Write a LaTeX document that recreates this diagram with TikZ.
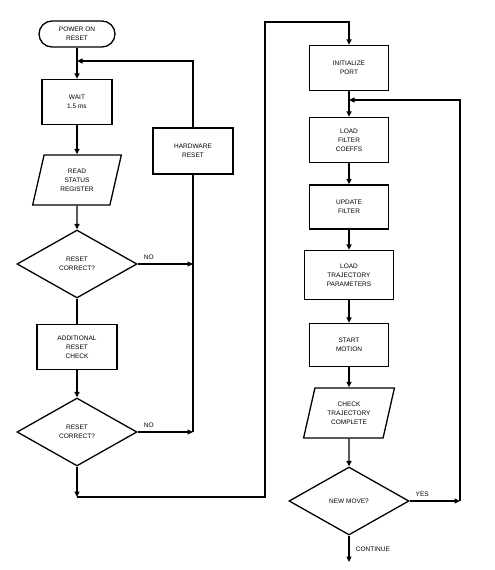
\documentclass[tikz,border=0pt]{standalone}
\usepackage{fontspec}
\setmainfont{Liberation Sans}
\usepackage{tikz}
\usetikzlibrary{arrows, arrows.meta, shapes.geometric}

\begin{document}
\begin{tikzpicture}[x=1pt, y=-1pt, line width=1.3pt,
  every node/.style={font=\fontsize{6.5}{9}\selectfont, align=center},
  flow/.style={-{Triangle[length=5.5pt, width=5pt]}},
  procbox/.style={draw, minimum width=79pt, minimum height=45pt, inner sep=1pt},
  termbox/.style={draw, rounded corners=13pt, minimum width=76pt, minimum height=26pt, inner sep=1pt},
  iobox/.style={draw, trapezium, trapezium left angle=76, trapezium right angle=104,
    trapezium stretches=true, minimum width=89pt, minimum height=50pt, inner sep=1pt},
  decision/.style={draw, diamond, aspect=1.76, minimum width=120pt, minimum height=68pt, inner sep=0pt}]
  \useasboundingbox (0,0) rectangle (495,570);

  % Left column
  \node[termbox] (por) at (77,34) {POWER ON\\RESET};
  \node[procbox, minimum width=70pt] (wait) at (77,102) {WAIT\\1.5 ms};
  \node[iobox] (rsr) at (77,180) {READ\\STATUS\\REGISTER};
  \node[decision] (rc1) at (77,264) {RESET\\CORRECT?};
  \node[procbox, minimum width=80pt] (arc) at (77,347) {ADDITIONAL\\RESET\\CHECK};
  \node[decision] (rc2) at (77,432) {RESET\\CORRECT?};
  \node[procbox, minimum width=80pt, minimum height=46pt] (hwr) at (193,151) {HARDWARE\\RESET};

  % Right column
  \node[procbox] (init) at (349,68) {INITIALIZE\\PORT};
  \node[procbox] (lfc) at (349,140) {LOAD\\FILTER\\COEFFS};
  \node[procbox, minimum height=44pt] (upd) at (349,207) {UPDATE\\FILTER};
  \node[procbox, minimum width=89pt, minimum height=49pt] (ltp) at (349,275) {LOAD\\TRAJECTORY\\PARAMETERS};
  \node[procbox, minimum height=43pt] (smo) at (349,345) {START\\MOTION};
  \node[iobox, minimum width=91pt, trapezium left angle=73, trapezium right angle=107] (ctc) at (349,413) {CHECK\\TRAJECTORY\\COMPLETE};
  \node[decision] (nmv) at (349,501) {NEW MOVE?};

  % Coordinates
  \coordinate (j1) at (77,61);
  \coordinate (n1) at (193,264);
  \coordinate (n2) at (193,432);
  \coordinate (j2) at (77,497);
  \coordinate (c1) at (265,22);
  \coordinate (j3) at (349,100);
  \coordinate (n3) at (460,501);
  \coordinate (cont) at (349,562);

  % Drawing
  \draw[flow] (por) -- (wait);
  \draw[flow] (hwr.north) |- (j1);
  \draw[flow] (wait) -- (rsr);
  \draw[flow] (rsr) -- (rc1);
  \draw[flow] (rc1.east) -- node[above, pos=0.2] {NO} (n1);
  \draw (rc1.south) -- (arc.north);
  \draw[flow] (arc) -- (rc2);
  \draw[flow] (rc2.east) -- node[above, pos=0.2] {NO} (n2);
  \draw (hwr.south) -- (n2);
  \draw[flow] (rc2.south) -- (j2);
  \draw[flow] (j2) -| (c1) -| (init.north);

  \draw[flow] (init) -- (lfc);
  \draw[flow] (lfc) -- (upd);
  \draw[flow] (upd) -- (ltp);
  \draw[flow] (ltp) -- (smo);
  \draw[flow] (smo) -- (ctc);
  \draw[flow] (ctc) -- (nmv);
  \draw[flow] (nmv.east) -- node[above, pos=0.25] {YES} (n3);
  \draw[flow] (n3) |- (j3);
  \draw[flow] (nmv.south) -- node[right, xshift=3pt] {CONTINUE} (cont);
\end{tikzpicture}
\end{document}
